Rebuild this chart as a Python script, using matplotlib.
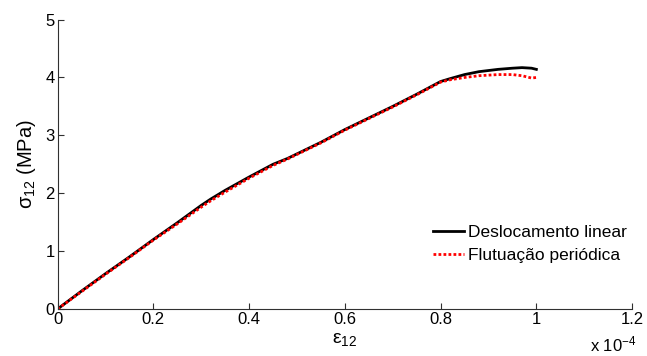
import numpy as np
import matplotlib
matplotlib.use("Agg")
import matplotlib.pyplot as plt

plt.rcParams['font.family'] = ['Liberation Sans', 'DejaVu Sans']
plt.rcParams['mathtext.fontset'] = 'custom'
plt.rcParams['mathtext.rm'] = 'Liberation Sans'

# strain (x 1e-4) and shear stress (MPa)
strain = [0, 0.05, 0.1, 0.15, 0.2, 0.25, 0.3, 0.32, 0.35, 0.4, 0.45, 0.48,
          0.5, 0.55, 0.6, 0.65, 0.7, 0.75, 0.8, 0.82, 0.85, 0.88, 0.9, 0.92,
          0.95, 0.97, 0.99, 1.0]
stress_linear = [0, 0.31, 0.61, 0.9, 1.2, 1.49, 1.79, 1.9, 2.05, 2.28, 2.5,
                 2.6, 2.68, 2.88, 3.1, 3.3, 3.5, 3.71, 3.93, 3.98, 4.05, 4.1,
                 4.12, 4.14, 4.16, 4.17, 4.16, 4.14]
stress_periodic = [0, 0.3, 0.6, 0.89, 1.19, 1.47, 1.76, 1.87, 2.02, 2.26,
                   2.48, 2.59, 2.67, 2.87, 3.09, 3.29, 3.49, 3.7, 3.92, 3.96,
                   4.0, 4.03, 4.04, 4.05, 4.05, 4.03, 3.99, 4.0]

labels = ['Deslocamento linear', 'Flutuação periódica']

fig = plt.figure(figsize=(6.47, 3.56), dpi=100)
ax = fig.add_axes([0.089, 0.132, 0.888, 0.813])

ax.plot(strain, stress_linear, color='black', lw=2, label=labels[0])
ax.plot(strain, stress_periodic, color='red', lw=2, ls=(0, (1, 0.8)), label=labels[1])

ax.set_xlim(0, 1.2)
ax.set_ylim(0, 5)
ax.set_xticks([0, 0.2, 0.4, 0.6, 0.8, 1, 1.2])
ax.set_xticklabels(['0', '0.2', '0.4', '0.6', '0.8', '1', '1.2'])
ax.set_yticks([0, 1, 2, 3, 4, 5])

for s in ['top', 'right']:
    ax.spines[s].set_visible(False)
for s in ['left', 'bottom']:
    ax.spines[s].set_color('#303030')
    ax.spines[s].set_linewidth(0.8)
ax.tick_params(direction='in', length=4, width=0.8, color='#303030',
               labelsize=12, pad=2)

ax.set_xlabel(r'$\mathregular{\epsilon_{12}}$', fontsize=14, labelpad=3)
ax.set_ylabel(r'$\mathregular{\sigma_{12}}$ (MPa)', fontsize=14.5, labelpad=5)
fig.text(0.912, 0.004, r'x 10$\mathregular{^{-4}}$', fontsize=12, va='bottom')

ax.legend(loc='upper left', bbox_to_anchor=(0.654, 0.292), frameon=False,
          fontsize=12.5, handlelength=1.75, handletextpad=0.25,
          labelspacing=0.45, borderpad=0, borderaxespad=0)

plt.savefig('out.png', dpi=100)
